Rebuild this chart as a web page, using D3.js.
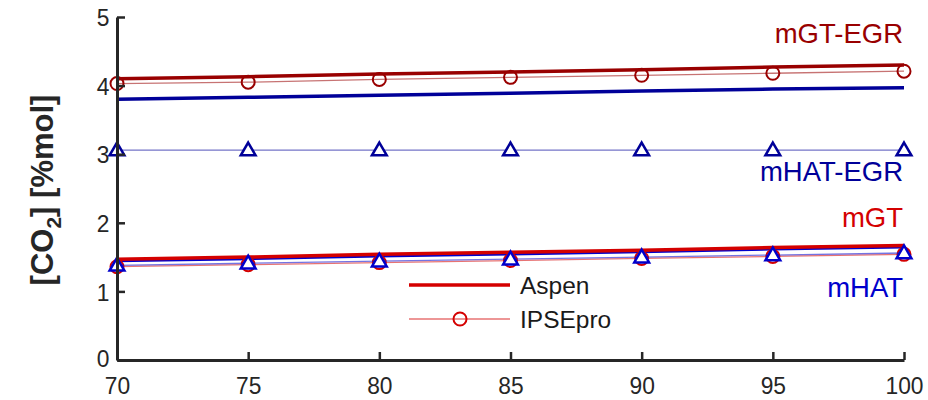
<!DOCTYPE html>
<html><head><meta charset="utf-8">
<script src="https://cdn.jsdelivr.net/npm/d3@7"></script>
<style>body{margin:0;background:#fff;} text{font-family:"Liberation Sans",Arial,Helvetica,sans-serif;}</style>
</head><body><svg id="c" width="928" height="400"></svg>
<script>
const xValues = [70, 75, 80, 85, 90, 95, 100];
const xTicks = [70, 75, 80, 85, 90, 95, 100];
const yTicks = [0, 1, 2, 3, 4, 5];
const mGTEGR_Aspen = [4.10, 4.13, 4.17, 4.20, 4.23, 4.27, 4.30];
const mGTEGR_IPSE = [4.03, 4.05, 4.09, 4.12, 4.15, 4.18, 4.21];
const mHATEGR_Aspen = [3.80, 3.83, 3.86, 3.89, 3.92, 3.95, 3.97];
const mHATEGR_IPSE = [3.06, 3.06, 3.06, 3.06, 3.06, 3.06, 3.06];
const mGT_Aspen = [1.47, 1.50, 1.54, 1.57, 1.60, 1.64, 1.67];
const mHAT_Aspen = [1.45, 1.48, 1.52, 1.55, 1.58, 1.62, 1.65];
const mGT_IPSE = [1.36, 1.39, 1.42, 1.45, 1.48, 1.51, 1.54];
const mHAT_IPSE = [1.38, 1.41, 1.44, 1.47, 1.50, 1.53, 1.56];
const seriesLabels = ["mGT-EGR", "mHAT-EGR", "mGT", "mHAT"];
const legendLabels = ["Aspen", "IPSEpro"];

const svg = d3.select("#c");
const x = d3.scaleLinear().domain([70, 100]).range([117, 904]);
const y = d3.scaleLinear().domain([0, 5]).range([360, 17]);
const axisColor = "#262626";

const line = d3.line().x((d, i) => x(xValues[i])).y(d => y(d));

function drawThick(vals, color) {
  svg.append("path").attr("d", line(vals)).attr("fill", "none")
    .attr("stroke", color).attr("stroke-width", 3.5);
}
function drawThin(vals, color) {
  svg.append("path").attr("d", line(vals)).attr("fill", "none")
    .attr("stroke", color).attr("stroke-width", 1.3).attr("stroke-opacity", 0.55);
}
function circles(vals, color) {
  svg.append("g").selectAll("circle").data(vals).join("circle")
    .attr("cx", (d, i) => x(xValues[i])).attr("cy", d => y(d)).attr("r", 6.5)
    .attr("fill", "none").attr("stroke", color).attr("stroke-width", 2);
}
const tri = d3.symbol().type(d3.symbolTriangle).size(95);
function triangles(vals, color) {
  svg.append("g").selectAll("path").data(vals).join("path")
    .attr("d", tri)
    .attr("transform", (d, i) => `translate(${x(xValues[i])},${y(d) + 1})`)
    .attr("fill", "white").attr("stroke", color).attr("stroke-width", 2.5);
}

const darkRed = "#990000", red = "#d40000", navy = "#000099", blue = "#0000cc";

drawThin(mGTEGR_IPSE, darkRed);
circles(mGTEGR_IPSE, darkRed);
drawThick(mGTEGR_Aspen, darkRed);
drawThick(mHATEGR_Aspen, navy);
drawThin(mHATEGR_IPSE, navy);
triangles(mHATEGR_IPSE, navy);
drawThick(mHAT_Aspen, blue);
drawThick(mGT_Aspen, red);
drawThin(mGT_IPSE, red);
circles(mGT_IPSE, red);
drawThin(mHAT_IPSE, blue);
triangles(mHAT_IPSE, blue);

const yAxis = d3.axisLeft(y).tickValues(yTicks).tickFormat(d3.format("d")).tickSizeInner(-8).tickSizeOuter(0).tickPadding(16);
const gy = svg.append("g").attr("transform", "translate(117,0)").call(yAxis);
const xAxis = d3.axisBottom(x).tickValues(xTicks).tickFormat(d3.format("d")).tickSizeInner(-8).tickSizeOuter(0).tickPadding(16);
const gx = svg.append("g").attr("transform", "translate(0,360)").call(xAxis);
[gx, gy].forEach(g => {
  g.select(".domain").attr("stroke", axisColor).attr("stroke-width", 3);
  g.selectAll(".tick line").attr("stroke", axisColor).attr("stroke-width", 2.5);
  g.selectAll(".tick text").attr("fill", axisColor).attr("font-size", 24)
    .attr("font-family", "Liberation Sans, Arial, sans-serif")
    .attr("transform", "scale(0.95,1)");
});
gy.selectAll(".tick text").attr("x", -8).attr("dy", d => d === 0 ? "0.28em" : "0.36em");
gx.selectAll(".tick text").attr("y", 34).attr("dy", 0);

const yl = svg.append("text").attr("transform", "translate(53,190) rotate(-90)")
  .attr("text-anchor", "middle").attr("font-size", 31).attr("font-weight", "bold").attr("fill", axisColor);
yl.append("tspan").text("[CO");
yl.append("tspan").attr("font-size", 21).attr("dy", 8).text("2");
yl.append("tspan").attr("dy", -8).text("] [%mol]");

const labelPos = [[darkRed, 43], [navy, 181], [red, 227], [blue, 297]];
seriesLabels.forEach((t, i) => {
  svg.append("text").attr("x", 903).attr("y", labelPos[i][1]).attr("text-anchor", "end")
    .attr("font-size", 27.5).attr("fill", labelPos[i][0]).text(t);
});

svg.append("line").attr("x1", 409).attr("x2", 510).attr("y1", 285).attr("y2", 285)
  .attr("stroke", red).attr("stroke-width", 3.5);
svg.append("line").attr("x1", 409).attr("x2", 510).attr("y1", 319).attr("y2", 319)
  .attr("stroke", red).attr("stroke-width", 1.3).attr("stroke-opacity", 0.55);
svg.append("circle").attr("cx", 460).attr("cy", 319).attr("r", 6.5)
  .attr("fill", "none").attr("stroke", red).attr("stroke-width", 2);
legendLabels.forEach((t, i) => {
  svg.append("text").attr("x", 520).attr("y", 294 + i * 34).attr("font-size", 24.5)
    .attr("fill", "#1a1a1a").text(t);
});
</script></body></html>
